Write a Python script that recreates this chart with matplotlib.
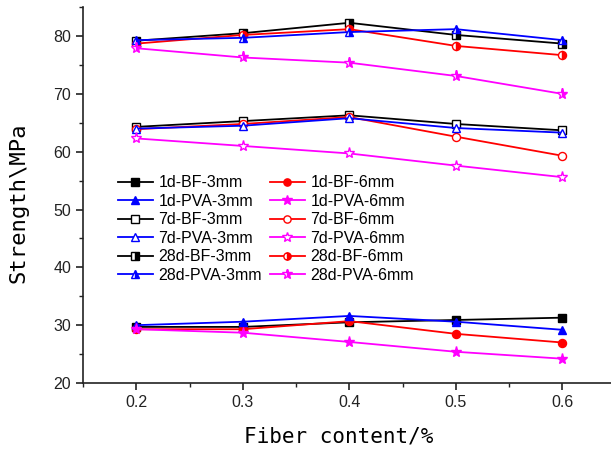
import matplotlib.pyplot as plt
from matplotlib.ticker import MultipleLocator

# Fiber content (%)
fiber = [0.2, 0.3, 0.4, 0.5, 0.6]

# 1 day strength
d1_bf3 = [29.7, 29.7, 30.5, 30.9, 31.3]
d1_bf6 = [29.3, 29.3, 30.7, 28.5, 27.0]
d1_pva3 = [30.0, 30.6, 31.6, 30.6, 29.2]
d1_pva6 = [29.3, 28.7, 27.1, 25.4, 24.2]

# 7 day strength
d7_bf3 = [64.3, 65.3, 66.3, 64.8, 63.7]
d7_bf6 = [63.9, 64.8, 66.0, 62.6, 59.3]
d7_pva3 = [64.0, 64.5, 65.8, 64.1, 63.3]
d7_pva6 = [62.3, 61.0, 59.7, 57.6, 55.6]

# 28 day strength
d28_bf3 = [79.2, 80.5, 82.3, 80.2, 78.7]
d28_bf6 = [78.7, 80.2, 81.2, 78.3, 76.7]
d28_pva3 = [79.3, 79.7, 80.7, 81.2, 79.3]
d28_pva6 = [77.9, 76.3, 75.4, 73.1, 70.0]

plt.rcParams["font.family"] = ["Liberation Sans", "DejaVu Sans"]

fig = plt.figure(figsize=(6.11, 4.49), dpi=100)
ax = fig.add_axes([0.1358, 0.147, 0.872, 0.837])

black, red, blue, mag = "#000000", "#ff0000", "#0000ff", "#ff00ff"

series = [
    ("1d-BF-3mm", d1_bf3, black, "s", "full"),
    ("1d-BF-6mm", d1_bf6, red, "o", "full"),
    ("1d-PVA-3mm", d1_pva3, blue, "^", "full"),
    ("1d-PVA-6mm", d1_pva6, mag, "*", "full"),
    ("7d-BF-3mm", d7_bf3, black, "s", "none"),
    ("7d-BF-6mm", d7_bf6, red, "o", "none"),
    ("7d-PVA-3mm", d7_pva3, blue, "^", "none"),
    ("7d-PVA-6mm", d7_pva6, mag, "*", "none"),
    ("28d-BF-3mm", d28_bf3, black, "s", "right"),
    ("28d-BF-6mm", d28_bf6, red, "o", "right"),
    ("28d-PVA-3mm", d28_pva3, blue, "^", "right"),
    ("28d-PVA-6mm", d28_pva6, mag, "*", "right"),
]

handles = {}
for name, vals, c, m, fill in series:
    ms = 8 if m == "*" else 5.8
    if fill == "full":
        h, = ax.plot(fiber, vals, color=c, marker=m, lw=1.3, ms=ms,
                     mfc=c, mec=c, label=name)
    elif fill == "none":
        h, = ax.plot(fiber, vals, color=c, marker=m, lw=1.3, ms=ms,
                     mfc="white", mec=c, label=name)
    else:
        h, = ax.plot(fiber, vals, color=c, marker=m, lw=1.3, ms=ms,
                     mfc=c, mec=c, fillstyle="right", markerfacecoloralt="white",
                     label=name)
    handles[name] = h

order = ["1d-BF-3mm", "1d-PVA-3mm", "7d-BF-3mm", "7d-PVA-3mm", "28d-BF-3mm", "28d-PVA-3mm",
         "1d-BF-6mm", "1d-PVA-6mm", "7d-BF-6mm", "7d-PVA-6mm", "28d-BF-6mm", "28d-PVA-6mm"]
ax.legend([handles[k] for k in order], order, ncol=2, frameon=False,
          loc="upper left", bbox_to_anchor=(0.053, 0.57), borderaxespad=0,
          fontsize=11.5, labelspacing=0.22, handlelength=2.2, handletextpad=0.35,
          columnspacing=0.5, markerscale=0.9)

ax.set_xlim(0.15, 0.65)
ax.set_ylim(20, 85)
ax.xaxis.set_major_locator(MultipleLocator(0.1))
ax.xaxis.set_minor_locator(MultipleLocator(0.05))
ax.yaxis.set_major_locator(MultipleLocator(10))
ax.yaxis.set_minor_locator(MultipleLocator(5))
ax.spines["top"].set_visible(False)
ax.spines["right"].set_visible(False)
for s in ("left", "bottom"):
    ax.spines[s].set_linewidth(1.2)
    ax.spines[s].set_color("#222222")
ax.tick_params(which="major", direction="out", length=5, width=1.2, labelsize=11.5,
               colors="#222222")
ax.tick_params(which="minor", direction="out", length=3, width=1.0, colors="#222222")
ax.set_xticks(fiber)
ax.set_xticklabels([f"{v:.1f}" for v in fiber])

# axis titles placed in figure coordinates
fig.text(0.555, 0.027, "Fiber content/%", family="DejaVu Sans Mono", fontsize=15,
         ha="center", va="center")
fig.text(0.030, 0.548, r"Strength\MPa", family="DejaVu Sans Mono", fontsize=16,
         rotation=90, ha="center", va="center")

fig.savefig("out.png", dpi=100)
